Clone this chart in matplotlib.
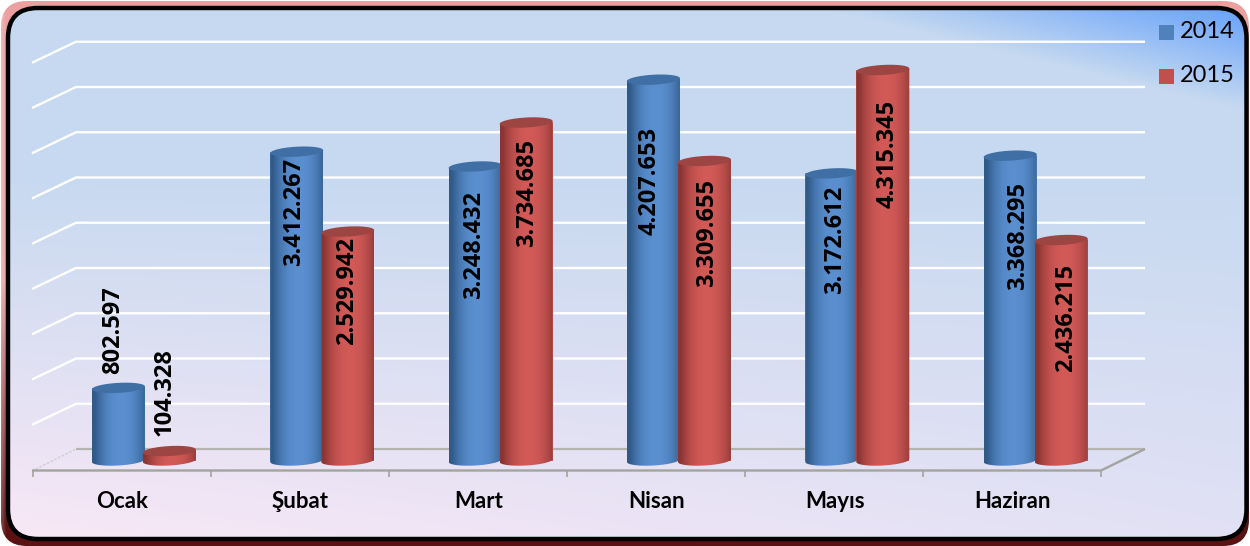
import numpy as np
import matplotlib
matplotlib.use("Agg")
import matplotlib.pyplot as plt
from matplotlib.patches import FancyBboxPatch, Polygon
from matplotlib.transforms import Affine2D
from matplotlib.colors import to_rgb

months = ["Ocak", "Şubat", "Mart", "Nisan", "Mayıs", "Haziran"]
series_names = ["2014", "2015"]
values_2014 = [802597, 3412267, 3248432, 4207653, 3172612, 3368295]
values_2015 = [104328, 2529942, 3734685, 3309655, 4315345, 2436215]
grid_values = [500000 * k for k in range(1, 10)]
# pixel centre of each rotated label
label_y_2014 = [330, 212, 245, 181, 240, 236]
label_y_2015 = [392, 291, 193, 233, 154, 318]
label_x_2014 = [113, 294, 474, 650, 835, 1018]
label_x_2015 = [165, 347, 527, 707, 888, 1066]

W, H = 1250, 546
X0, DX = 143.9, 178.35   # pixel of category boundary
Y0, SY = 460.5, 90.5e-6  # pixel of value 0, px per unit
BW = 53.0
HALF_OFF = 25.5

fig = plt.figure(figsize=(W / 100, H / 100), dpi=100)
fig.patch.set_facecolor("white")

# ---------- frame and background ----------
bg = fig.add_axes([0, 0, 1, 1], zorder=0)
bg.set_xlim(0, W); bg.set_ylim(H, 0); bg.axis("off")
yy, xx = np.mgrid[0:H, 0:W]

def mix(a, b, t):
    t = np.clip(t, 0, 1)[..., None]
    return np.array(to_rgb(a)) * (1 - t) + np.array(to_rgb(b)) * t

outer = mix("#eb9f9f", "#5a1212", np.clip((yy - 280) / 240.0, 0, 1))
fade = np.clip(xx / 6.0, 0, 1)[..., None]
outer = outer * (0.72 + 0.28 * fade) + (1 - fade) * 0.28
outer_patch = FancyBboxPatch((1, 1), W - 2, H - 1, boxstyle="round,pad=0,rounding_size=26",
                             fc="none", ec="none")
bg.add_patch(outer_patch)
im = bg.imshow(outer, extent=(0, W, H, 0), aspect="auto", zorder=1)
im.set_clip_path(outer_patch)

bottom = mix("#f9e8f6", "#e2e1f5", xx / 1250.0)
top = np.array(to_rgb("#c6d9f0"))
tv = np.clip((yy - 170) / 370.0, 0, 1)[..., None]
inner = top * (1 - tv) + bottom * tv
# blue glow in the top right corner
d = np.clip(((xx - 830) * 0.24 - (yy - 10)) / 100.0, 0, 1)[..., None]
inner = inner * (1 - d) + np.array(to_rgb("#66a2fb")) * d
box = FancyBboxPatch((8, 8), 1238.5, 531, boxstyle="round,pad=0,rounding_size=30",
                     fc="none", ec="black", lw=3.2, zorder=3)
bg.add_patch(box)
im2 = bg.imshow(inner, extent=(0, W, H, 0), aspect="auto", zorder=2)
im2.set_clip_path(box)
bg.set_xlim(0, W); bg.set_ylim(H, 0)

# ---------- main data axes: full figure, linear scales ----------
ax = fig.add_axes([0, 0, 1, 1], zorder=1)
ax.patch.set_alpha(0)
ax.axis("off")

px = Affine2D().scale(1, -1).translate(0, H)  # pixel (y down) -> display at dpi 100

def gp(xs, ys, **kw):
    ax.plot(xs, ys, transform=px, solid_capstyle="butt", clip_on=False, **kw)

for v in grid_values:
    y = 449 - v * SY
    gp([32, 76, 1145], [y + 21, y, y], color="white", lw=1.7, zorder=1)

# floor
FLOOR = "#a3a39f"
gp([76, 1145], [449, 449], color="#b5b5b0", lw=1.6, zorder=1)
gp([32, 76], [471, 449], color="#d0d0da", lw=1.2, ls=(0, (1.5, 1)), zorder=1)
gp([32, 1101, 1145], [470.5, 470.5, 449], color=FLOOR, lw=1.7, zorder=1)
for i in range(7):
    x = 33 + 178 * i
    gp([x, x], [470, 477], color=FLOOR, lw=1.2, zorder=1)

# ---------- cylinders ----------
TILT = 0.055
HH = 5.0

def ellipse(n=60):
    th = np.linspace(0, 2 * np.pi, n)
    ex = np.cos(th) * BW / 2
    ey = np.sin(th) * HH - TILT * ex   # pixels, y down
    return ex, ey

def side_gradient(dark, mid):
    u = np.linspace(-1, 1, 120)
    s = np.clip(1 - np.abs(u - 0.1) ** 2.2, 0, 1)[None, :]
    return mix(dark, mid, s)

def cylinder(i, off, v, dark, mid, top_c):
    xc = i + off * HALF_OFF / DX
    w = BW / DX
    z = 3 + off * 0.5
    ax.bar(xc, v, width=w, bottom=0, color=mid, lw=0, zorder=z)
    ex, ey = ellipse()
    xs = np.r_[ex[:30] / DX + xc, [xc - w / 2, xc + w / 2]]
    ys = np.r_[-ey[:30] / SY, [v - TILT * BW / 2 / SY, v + TILT * BW / 2 / SY]]
    shape = Polygon(np.c_[xs, ys], closed=True, fc="none", ec="none")
    ax.add_patch(shape)
    img = ax.imshow(side_gradient(dark, mid), extent=(xc - w / 2, xc + w / 2, -8 / SY, v + 8 / SY),
                    aspect="auto", zorder=z + 0.1, interpolation="bilinear")
    img.set_clip_path(shape)
    ax.add_patch(Polygon(np.c_[ex / DX + xc, v - ey / SY], closed=True, fc=top_c, ec="none",
                         zorder=z + 0.2))

for i, (a, b) in enumerate(zip(values_2014, values_2015)):
    cylinder(i, -1, a, "#305a88", "#5a8fd0", "#3f6fa4")
    cylinder(i, 1, b, "#8a3533", "#d25a57", "#9c4543")
ax.set_xlim((0 - X0) / DX, (W - X0) / DX)
ax.set_ylim((Y0 - H) / SY, Y0 / SY)

# ---------- labels ----------
def tx(x, y, s, **kw):
    fig.text(x / W, 1 - y / H, s, ha="center", va="center", zorder=6, **kw)

fmt = lambda v: f"{v:,}".replace(",", ".")
LAB = dict(rotation=90, fontsize=17, fontweight="bold", family="Open Sans", color="black")
for i in range(6):
    tx(label_x_2014[i], label_y_2014[i], fmt(values_2014[i]), **LAB)
    tx(label_x_2015[i], label_y_2015[i], fmt(values_2015[i]), **LAB)
    tx(122 + 178.2 * i, 501, months[i], fontsize=16, fontweight="bold", family="Lato", color="black")

# ---------- legend ----------
for y, name, c in zip([32, 76], series_names, ["#4f81bd", "#c0504d"]):
    ax.add_patch(plt.Rectangle((1159, y - 7.5), 15, 15, transform=px, fc=c, ec="none", zorder=5))
    fig.text(1180 / W, 1 - y / H, name, ha="left", va="center", fontsize=17, family="Lato",
             color="black", zorder=6)

fig.savefig("out.png", dpi=100)
